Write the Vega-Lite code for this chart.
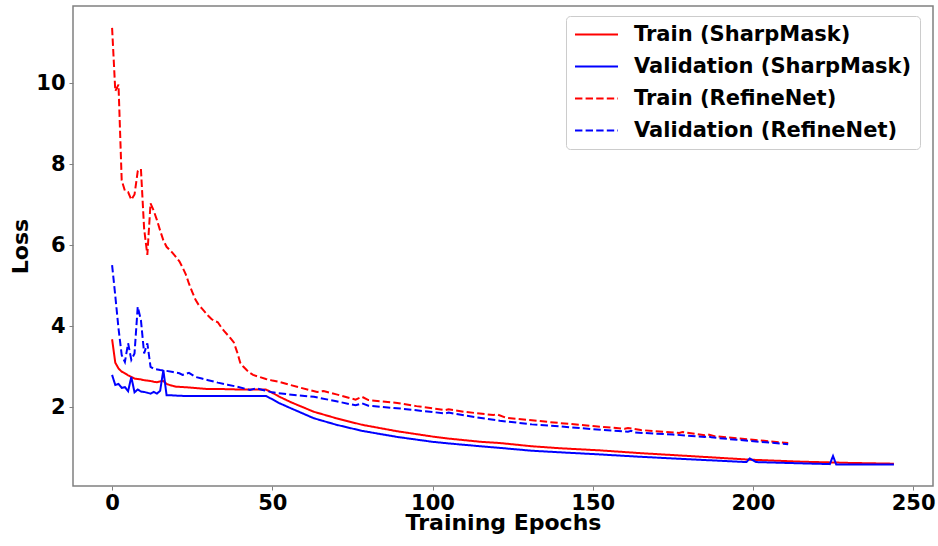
{
  "$schema": "https://vega.github.io/schema/vega-lite/v6.json",
  "width": 860,
  "height": 480,
  "autosize": "none",
  "padding": {"left": 73, "top": 6, "right": 5, "bottom": 60},
  "background": "white",
  "config": {"font": "DejaVu Sans", "view": {"stroke": "#808080", "strokeWidth": 1.5}},
  "data": {"values": [
    {"series": "Train (SharpMask)", "epoch": 0, "loss": 3.68},
    {"series": "Train (SharpMask)", "epoch": 1, "loss": 3.1},
    {"series": "Train (SharpMask)", "epoch": 2, "loss": 2.96},
    {"series": "Train (SharpMask)", "epoch": 3, "loss": 2.88},
    {"series": "Train (SharpMask)", "epoch": 4, "loss": 2.84},
    {"series": "Train (SharpMask)", "epoch": 5, "loss": 2.79},
    {"series": "Train (SharpMask)", "epoch": 6, "loss": 2.75},
    {"series": "Train (SharpMask)", "epoch": 7, "loss": 2.71},
    {"series": "Train (SharpMask)", "epoch": 8, "loss": 2.7},
    {"series": "Train (SharpMask)", "epoch": 9, "loss": 2.69},
    {"series": "Train (SharpMask)", "epoch": 10, "loss": 2.67},
    {"series": "Train (SharpMask)", "epoch": 11, "loss": 2.66},
    {"series": "Train (SharpMask)", "epoch": 12, "loss": 2.65},
    {"series": "Train (SharpMask)", "epoch": 13, "loss": 2.63},
    {"series": "Train (SharpMask)", "epoch": 14, "loss": 2.62},
    {"series": "Train (SharpMask)", "epoch": 15, "loss": 2.64},
    {"series": "Train (SharpMask)", "epoch": 16, "loss": 2.65},
    {"series": "Train (SharpMask)", "epoch": 17, "loss": 2.58},
    {"series": "Train (SharpMask)", "epoch": 18, "loss": 2.55},
    {"series": "Train (SharpMask)", "epoch": 19, "loss": 2.53},
    {"series": "Train (SharpMask)", "epoch": 20, "loss": 2.51},
    {"series": "Train (SharpMask)", "epoch": 22, "loss": 2.5},
    {"series": "Train (SharpMask)", "epoch": 24, "loss": 2.49},
    {"series": "Train (SharpMask)", "epoch": 27, "loss": 2.47},
    {"series": "Train (SharpMask)", "epoch": 30, "loss": 2.45},
    {"series": "Train (SharpMask)", "epoch": 35, "loss": 2.45},
    {"series": "Train (SharpMask)", "epoch": 40, "loss": 2.44},
    {"series": "Train (SharpMask)", "epoch": 45, "loss": 2.44},
    {"series": "Train (SharpMask)", "epoch": 48, "loss": 2.44},
    {"series": "Train (SharpMask)", "epoch": 50, "loss": 2.36},
    {"series": "Train (SharpMask)", "epoch": 52, "loss": 2.27},
    {"series": "Train (SharpMask)", "epoch": 56, "loss": 2.12},
    {"series": "Train (SharpMask)", "epoch": 63, "loss": 1.89},
    {"series": "Train (SharpMask)", "epoch": 70, "loss": 1.73},
    {"series": "Train (SharpMask)", "epoch": 78, "loss": 1.57},
    {"series": "Train (SharpMask)", "epoch": 89, "loss": 1.41},
    {"series": "Train (SharpMask)", "epoch": 100, "loss": 1.28},
    {"series": "Train (SharpMask)", "epoch": 105, "loss": 1.23},
    {"series": "Train (SharpMask)", "epoch": 115, "loss": 1.15},
    {"series": "Train (SharpMask)", "epoch": 121, "loss": 1.12},
    {"series": "Train (SharpMask)", "epoch": 131, "loss": 1.04},
    {"series": "Train (SharpMask)", "epoch": 140, "loss": 0.99},
    {"series": "Train (SharpMask)", "epoch": 152, "loss": 0.94},
    {"series": "Train (SharpMask)", "epoch": 165, "loss": 0.87},
    {"series": "Train (SharpMask)", "epoch": 180, "loss": 0.8},
    {"series": "Train (SharpMask)", "epoch": 199, "loss": 0.71},
    {"series": "Train (SharpMask)", "epoch": 215, "loss": 0.66},
    {"series": "Train (SharpMask)", "epoch": 230, "loss": 0.63},
    {"series": "Train (SharpMask)", "epoch": 244, "loss": 0.61},

    {"series": "Validation (SharpMask)", "epoch": 0, "loss": 2.8},
    {"series": "Validation (SharpMask)", "epoch": 1, "loss": 2.55},
    {"series": "Validation (SharpMask)", "epoch": 2, "loss": 2.58},
    {"series": "Validation (SharpMask)", "epoch": 3, "loss": 2.48},
    {"series": "Validation (SharpMask)", "epoch": 4, "loss": 2.5},
    {"series": "Validation (SharpMask)", "epoch": 5, "loss": 2.4},
    {"series": "Validation (SharpMask)", "epoch": 6, "loss": 2.75},
    {"series": "Validation (SharpMask)", "epoch": 7, "loss": 2.37},
    {"series": "Validation (SharpMask)", "epoch": 8, "loss": 2.44},
    {"series": "Validation (SharpMask)", "epoch": 9, "loss": 2.39},
    {"series": "Validation (SharpMask)", "epoch": 10, "loss": 2.38},
    {"series": "Validation (SharpMask)", "epoch": 11, "loss": 2.36},
    {"series": "Validation (SharpMask)", "epoch": 12, "loss": 2.34},
    {"series": "Validation (SharpMask)", "epoch": 13, "loss": 2.38},
    {"series": "Validation (SharpMask)", "epoch": 14, "loss": 2.34},
    {"series": "Validation (SharpMask)", "epoch": 15, "loss": 2.41},
    {"series": "Validation (SharpMask)", "epoch": 16, "loss": 2.92},
    {"series": "Validation (SharpMask)", "epoch": 17, "loss": 2.3},
    {"series": "Validation (SharpMask)", "epoch": 18, "loss": 2.3},
    {"series": "Validation (SharpMask)", "epoch": 20, "loss": 2.29},
    {"series": "Validation (SharpMask)", "epoch": 23, "loss": 2.28},
    {"series": "Validation (SharpMask)", "epoch": 30, "loss": 2.28},
    {"series": "Validation (SharpMask)", "epoch": 40, "loss": 2.28},
    {"series": "Validation (SharpMask)", "epoch": 48, "loss": 2.28},
    {"series": "Validation (SharpMask)", "epoch": 50, "loss": 2.2},
    {"series": "Validation (SharpMask)", "epoch": 52, "loss": 2.11},
    {"series": "Validation (SharpMask)", "epoch": 56, "loss": 1.97},
    {"series": "Validation (SharpMask)", "epoch": 63, "loss": 1.73},
    {"series": "Validation (SharpMask)", "epoch": 70, "loss": 1.57},
    {"series": "Validation (SharpMask)", "epoch": 78, "loss": 1.42},
    {"series": "Validation (SharpMask)", "epoch": 89, "loss": 1.27},
    {"series": "Validation (SharpMask)", "epoch": 100, "loss": 1.15},
    {"series": "Validation (SharpMask)", "epoch": 105, "loss": 1.11},
    {"series": "Validation (SharpMask)", "epoch": 115, "loss": 1.04},
    {"series": "Validation (SharpMask)", "epoch": 121, "loss": 1.0},
    {"series": "Validation (SharpMask)", "epoch": 131, "loss": 0.93},
    {"series": "Validation (SharpMask)", "epoch": 140, "loss": 0.89},
    {"series": "Validation (SharpMask)", "epoch": 152, "loss": 0.84},
    {"series": "Validation (SharpMask)", "epoch": 165, "loss": 0.78},
    {"series": "Validation (SharpMask)", "epoch": 180, "loss": 0.72},
    {"series": "Validation (SharpMask)", "epoch": 198, "loss": 0.65},
    {"series": "Validation (SharpMask)", "epoch": 199, "loss": 0.74},
    {"series": "Validation (SharpMask)", "epoch": 201, "loss": 0.65},
    {"series": "Validation (SharpMask)", "epoch": 210, "loss": 0.63},
    {"series": "Validation (SharpMask)", "epoch": 224, "loss": 0.6},
    {"series": "Validation (SharpMask)", "epoch": 225, "loss": 0.8},
    {"series": "Validation (SharpMask)", "epoch": 226, "loss": 0.59},
    {"series": "Validation (SharpMask)", "epoch": 235, "loss": 0.59},
    {"series": "Validation (SharpMask)", "epoch": 244, "loss": 0.59},

    {"series": "Train (RefineNet)", "epoch": 0, "loss": 11.36},
    {"series": "Train (RefineNet)", "epoch": 1, "loss": 9.8},
    {"series": "Train (RefineNet)", "epoch": 2, "loss": 9.96},
    {"series": "Train (RefineNet)", "epoch": 3, "loss": 7.6},
    {"series": "Train (RefineNet)", "epoch": 4, "loss": 7.34},
    {"series": "Train (RefineNet)", "epoch": 5, "loss": 7.31},
    {"series": "Train (RefineNet)", "epoch": 6, "loss": 7.12},
    {"series": "Train (RefineNet)", "epoch": 7, "loss": 7.25},
    {"series": "Train (RefineNet)", "epoch": 8, "loss": 7.82},
    {"series": "Train (RefineNet)", "epoch": 9, "loss": 7.88},
    {"series": "Train (RefineNet)", "epoch": 10, "loss": 6.4},
    {"series": "Train (RefineNet)", "epoch": 11, "loss": 5.76},
    {"series": "Train (RefineNet)", "epoch": 12, "loss": 7.03},
    {"series": "Train (RefineNet)", "epoch": 13, "loss": 6.85},
    {"series": "Train (RefineNet)", "epoch": 14, "loss": 6.62},
    {"series": "Train (RefineNet)", "epoch": 15, "loss": 6.36},
    {"series": "Train (RefineNet)", "epoch": 16, "loss": 6.12},
    {"series": "Train (RefineNet)", "epoch": 17, "loss": 5.96},
    {"series": "Train (RefineNet)", "epoch": 18, "loss": 5.88},
    {"series": "Train (RefineNet)", "epoch": 19, "loss": 5.8},
    {"series": "Train (RefineNet)", "epoch": 20, "loss": 5.7},
    {"series": "Train (RefineNet)", "epoch": 21, "loss": 5.6},
    {"series": "Train (RefineNet)", "epoch": 22, "loss": 5.45},
    {"series": "Train (RefineNet)", "epoch": 23, "loss": 5.28},
    {"series": "Train (RefineNet)", "epoch": 24, "loss": 5.05},
    {"series": "Train (RefineNet)", "epoch": 25, "loss": 4.85},
    {"series": "Train (RefineNet)", "epoch": 26, "loss": 4.66},
    {"series": "Train (RefineNet)", "epoch": 27, "loss": 4.53},
    {"series": "Train (RefineNet)", "epoch": 28, "loss": 4.44},
    {"series": "Train (RefineNet)", "epoch": 29, "loss": 4.35},
    {"series": "Train (RefineNet)", "epoch": 30, "loss": 4.26},
    {"series": "Train (RefineNet)", "epoch": 31, "loss": 4.18},
    {"series": "Train (RefineNet)", "epoch": 32, "loss": 4.13},
    {"series": "Train (RefineNet)", "epoch": 33, "loss": 4.1},
    {"series": "Train (RefineNet)", "epoch": 34, "loss": 3.98},
    {"series": "Train (RefineNet)", "epoch": 35, "loss": 3.88},
    {"series": "Train (RefineNet)", "epoch": 36, "loss": 3.79},
    {"series": "Train (RefineNet)", "epoch": 37, "loss": 3.7},
    {"series": "Train (RefineNet)", "epoch": 38, "loss": 3.6},
    {"series": "Train (RefineNet)", "epoch": 39, "loss": 3.37},
    {"series": "Train (RefineNet)", "epoch": 40, "loss": 3.1},
    {"series": "Train (RefineNet)", "epoch": 41, "loss": 3.0},
    {"series": "Train (RefineNet)", "epoch": 42, "loss": 2.92},
    {"series": "Train (RefineNet)", "epoch": 43, "loss": 2.85},
    {"series": "Train (RefineNet)", "epoch": 44, "loss": 2.8},
    {"series": "Train (RefineNet)", "epoch": 46, "loss": 2.75},
    {"series": "Train (RefineNet)", "epoch": 48, "loss": 2.7},
    {"series": "Train (RefineNet)", "epoch": 50, "loss": 2.66},
    {"series": "Train (RefineNet)", "epoch": 52, "loss": 2.63},
    {"series": "Train (RefineNet)", "epoch": 58, "loss": 2.5},
    {"series": "Train (RefineNet)", "epoch": 64, "loss": 2.38},
    {"series": "Train (RefineNet)", "epoch": 66, "loss": 2.4},
    {"series": "Train (RefineNet)", "epoch": 70, "loss": 2.32},
    {"series": "Train (RefineNet)", "epoch": 76, "loss": 2.19},
    {"series": "Train (RefineNet)", "epoch": 78, "loss": 2.26},
    {"series": "Train (RefineNet)", "epoch": 80, "loss": 2.18},
    {"series": "Train (RefineNet)", "epoch": 89, "loss": 2.11},
    {"series": "Train (RefineNet)", "epoch": 95, "loss": 2.03},
    {"series": "Train (RefineNet)", "epoch": 104, "loss": 1.93},
    {"series": "Train (RefineNet)", "epoch": 105, "loss": 1.95},
    {"series": "Train (RefineNet)", "epoch": 110, "loss": 1.89},
    {"series": "Train (RefineNet)", "epoch": 119, "loss": 1.81},
    {"series": "Train (RefineNet)", "epoch": 120, "loss": 1.83},
    {"series": "Train (RefineNet)", "epoch": 123, "loss": 1.74},
    {"series": "Train (RefineNet)", "epoch": 131, "loss": 1.68},
    {"series": "Train (RefineNet)", "epoch": 140, "loss": 1.61},
    {"series": "Train (RefineNet)", "epoch": 150, "loss": 1.54},
    {"series": "Train (RefineNet)", "epoch": 160, "loss": 1.47},
    {"series": "Train (RefineNet)", "epoch": 161, "loss": 1.49},
    {"series": "Train (RefineNet)", "epoch": 165, "loss": 1.44},
    {"series": "Train (RefineNet)", "epoch": 177, "loss": 1.37},
    {"series": "Train (RefineNet)", "epoch": 178, "loss": 1.39},
    {"series": "Train (RefineNet)", "epoch": 185, "loss": 1.31},
    {"series": "Train (RefineNet)", "epoch": 186, "loss": 1.33},
    {"series": "Train (RefineNet)", "epoch": 188, "loss": 1.29},
    {"series": "Train (RefineNet)", "epoch": 200, "loss": 1.2},
    {"series": "Train (RefineNet)", "epoch": 211, "loss": 1.12},

    {"series": "Validation (RefineNet)", "epoch": 0, "loss": 5.51},
    {"series": "Validation (RefineNet)", "epoch": 1, "loss": 4.75},
    {"series": "Validation (RefineNet)", "epoch": 2, "loss": 3.95},
    {"series": "Validation (RefineNet)", "epoch": 3, "loss": 3.29},
    {"series": "Validation (RefineNet)", "epoch": 4, "loss": 3.12},
    {"series": "Validation (RefineNet)", "epoch": 5, "loss": 3.58},
    {"series": "Validation (RefineNet)", "epoch": 6, "loss": 3.17},
    {"series": "Validation (RefineNet)", "epoch": 7, "loss": 3.33},
    {"series": "Validation (RefineNet)", "epoch": 8, "loss": 4.48},
    {"series": "Validation (RefineNet)", "epoch": 9, "loss": 4.15},
    {"series": "Validation (RefineNet)", "epoch": 10, "loss": 3.33},
    {"series": "Validation (RefineNet)", "epoch": 11, "loss": 3.58},
    {"series": "Validation (RefineNet)", "epoch": 12, "loss": 3.0},
    {"series": "Validation (RefineNet)", "epoch": 13, "loss": 2.95},
    {"series": "Validation (RefineNet)", "epoch": 15, "loss": 2.92},
    {"series": "Validation (RefineNet)", "epoch": 17, "loss": 2.9},
    {"series": "Validation (RefineNet)", "epoch": 19, "loss": 2.87},
    {"series": "Validation (RefineNet)", "epoch": 21, "loss": 2.84},
    {"series": "Validation (RefineNet)", "epoch": 22, "loss": 2.8},
    {"series": "Validation (RefineNet)", "epoch": 24, "loss": 2.85},
    {"series": "Validation (RefineNet)", "epoch": 26, "loss": 2.75},
    {"series": "Validation (RefineNet)", "epoch": 28, "loss": 2.71},
    {"series": "Validation (RefineNet)", "epoch": 30, "loss": 2.67},
    {"series": "Validation (RefineNet)", "epoch": 33, "loss": 2.61},
    {"series": "Validation (RefineNet)", "epoch": 36, "loss": 2.56},
    {"series": "Validation (RefineNet)", "epoch": 39, "loss": 2.51},
    {"series": "Validation (RefineNet)", "epoch": 43, "loss": 2.43},
    {"series": "Validation (RefineNet)", "epoch": 45, "loss": 2.47},
    {"series": "Validation (RefineNet)", "epoch": 47, "loss": 2.43},
    {"series": "Validation (RefineNet)", "epoch": 50, "loss": 2.37},
    {"series": "Validation (RefineNet)", "epoch": 55, "loss": 2.32},
    {"series": "Validation (RefineNet)", "epoch": 63, "loss": 2.26},
    {"series": "Validation (RefineNet)", "epoch": 70, "loss": 2.15},
    {"series": "Validation (RefineNet)", "epoch": 76, "loss": 2.05},
    {"series": "Validation (RefineNet)", "epoch": 78, "loss": 2.1},
    {"series": "Validation (RefineNet)", "epoch": 80, "loss": 2.04},
    {"series": "Validation (RefineNet)", "epoch": 90, "loss": 1.97},
    {"series": "Validation (RefineNet)", "epoch": 104, "loss": 1.85},
    {"series": "Validation (RefineNet)", "epoch": 105, "loss": 1.87},
    {"series": "Validation (RefineNet)", "epoch": 110, "loss": 1.8},
    {"series": "Validation (RefineNet)", "epoch": 121, "loss": 1.67},
    {"series": "Validation (RefineNet)", "epoch": 131, "loss": 1.58},
    {"series": "Validation (RefineNet)", "epoch": 140, "loss": 1.53},
    {"series": "Validation (RefineNet)", "epoch": 150, "loss": 1.46},
    {"series": "Validation (RefineNet)", "epoch": 161, "loss": 1.4},
    {"series": "Validation (RefineNet)", "epoch": 162, "loss": 1.42},
    {"series": "Validation (RefineNet)", "epoch": 163, "loss": 1.38},
    {"series": "Validation (RefineNet)", "epoch": 175, "loss": 1.33},
    {"series": "Validation (RefineNet)", "epoch": 185, "loss": 1.27},
    {"series": "Validation (RefineNet)", "epoch": 186, "loss": 1.29},
    {"series": "Validation (RefineNet)", "epoch": 187, "loss": 1.26},
    {"series": "Validation (RefineNet)", "epoch": 195, "loss": 1.2},
    {"series": "Validation (RefineNet)", "epoch": 211, "loss": 1.09}
  ]},
  "mark": {"type": "line", "strokeWidth": 2, "clip": true},
  "encoding": {
    "x": {
      "field": "epoch", "type": "quantitative",
      "scale": {"domain": [-12.2, 256.2], "nice": false, "zero": false},
      "axis": {
        "title": "Training Epochs", "values": [0, 50, 100, 150, 200, 250],
        "grid": false, "domain": false, "tickColor": "#808080", "tickSize": 4, "tickWidth": 1,
        "labelFont": "DejaVu Sans", "labelFontSize": 21, "labelFontWeight": "bold", "labelColor": "black",
        "labelPadding": 2, "labelFlush": false,
        "titleFont": "DejaVu Sans", "titleFontSize": 22, "titleFontWeight": "bold", "titleColor": "black",
        "titleBaseline": "alphabetic", "titleY": 43
      }
    },
    "y": {
      "field": "loss", "type": "quantitative",
      "scale": {"domain": [0.06, 11.9], "nice": false, "zero": false},
      "axis": {
        "title": "Loss", "values": [2, 4, 6, 8, 10],
        "grid": false, "domain": false, "tickColor": "#808080", "tickSize": 4, "tickWidth": 1,
        "labelFont": "DejaVu Sans", "labelFontSize": 21, "labelFontWeight": "bold", "labelColor": "black",
        "labelPadding": 4,
        "titleFont": "DejaVu Sans", "titleFontSize": 22, "titleFontWeight": "bold", "titleColor": "black",
        "titleBaseline": "alphabetic", "titleX": -46
      }
    },
    "color": {
      "field": "series", "type": "nominal",
      "scale": {
        "domain": ["Train (SharpMask)", "Validation (SharpMask)", "Train (RefineNet)", "Validation (RefineNet)"],
        "range": ["#ff0000", "#0000ff", "#ff0000", "#0000ff"]
      },
      "legend": {
        "title": null, "orient": "none", "legendX": 493, "legendY": 10,
        "symbolType": "stroke", "symbolSize": 1849, "symbolStrokeWidth": 2,
        "labelFont": "DejaVu Sans", "labelFontSize": 21, "labelFontWeight": "bold", "labelColor": "black",
        "labelOffset": 15, "labelLimit": 400, "clipHeight": 21, "rowPadding": 10, "padding": 8,
        "strokeColor": "#cccccc", "fillColor": "rgba(255,255,255,0.8)", "cornerRadius": 4
      }
    },
    "strokeDash": {
      "field": "series", "type": "nominal",
      "scale": {
        "domain": ["Train (SharpMask)", "Validation (SharpMask)", "Train (RefineNet)", "Validation (RefineNet)"],
        "range": [[1, 0], [1, 0], [7.4, 3.2], [7.4, 3.2]]
      },
      "legend": {
        "title": null, "orient": "none", "legendX": 493, "legendY": 10,
        "symbolType": "stroke", "symbolSize": 1849, "symbolStrokeWidth": 2,
        "labelFont": "DejaVu Sans", "labelFontSize": 21, "labelFontWeight": "bold", "labelColor": "black",
        "labelOffset": 15, "labelLimit": 400, "clipHeight": 21, "rowPadding": 10, "padding": 8,
        "strokeColor": "#cccccc", "fillColor": "rgba(255,255,255,0.8)", "cornerRadius": 4
      }
    }
  }
}
